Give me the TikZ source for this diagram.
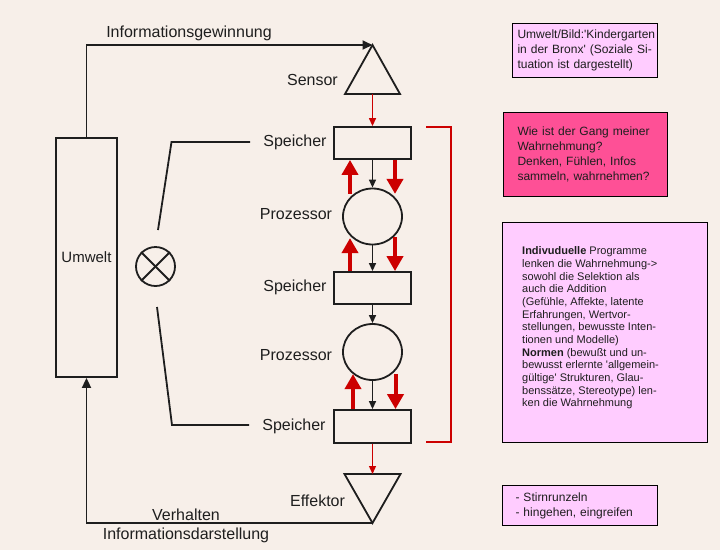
\documentclass[tikz,border=0pt]{standalone}
\usepackage{fontspec}
\setmainfont{Liberation Sans}
\usetikzlibrary{arrows.meta,shapes.geometric}
\definecolor{bg}{RGB}{247,239,233}
\definecolor{rd}{RGB}{204,0,0}
\definecolor{lpink}{RGB}{255,204,255}
\definecolor{hpink}{RGB}{254,80,150}
\definecolor{ln}{RGB}{30,30,30}
\begin{document}
\begin{tikzpicture}[x=1pt,y=-1pt,
  lbl/.style={font=\fontsize{16}{19}\selectfont, inner sep=0pt, text=ln},
  store/.style={draw=ln, line width=1.8pt, minimum width=77pt, minimum height=32pt, inner sep=0pt},
  proc/.style={draw=ln, line width=1.8pt, ellipse, minimum width=59pt, minimum height=56pt, inner sep=0pt},
  mainline/.style={draw=ln, line width=1.8pt},
  thinarrow/.style={draw=ln, line width=1.3pt, -{Triangle[width=7pt,length=8pt]}},
  thinred/.style={draw=rd, line width=1.3pt, -{Triangle[width=7pt,length=8pt]}},
  bigred/.style={draw=rd, line width=4pt, -{Triangle[width=16pt,length=15pt]}},
  infobox/.style={draw=black, line width=1pt, anchor=north west, inner ysep=0pt, align=left, text=ln}
]
\fill[bg] (0,0) rectangle (720,550);
\useasboundingbox (0,0) rectangle (720,550);

% Umwelt
\node[draw=ln, line width=1.8pt, minimum width=61pt, minimum height=239pt, inner sep=0pt,
      font=\fontsize{15}{18}\selectfont, text=ln] (umwelt) at (86.5,257.5) {Umwelt};

% Sensor triangle
\coordinate (sensTop) at (372.5,45);
\coordinate (sensL) at (345,94);
\coordinate (sensR) at (400,94);
\coordinate (sensBot) at (372.5,94);
\draw[mainline] (sensTop) -- (sensL) -- (sensR) -- cycle;

% Effektor triangle
\coordinate (effL) at (344.5,474);
\coordinate (effR) at (400.5,474);
\coordinate (effTop) at (372.5,474);
\coordinate (effApex) at (372.5,523);
\draw[mainline] (effL) -- (effR) -- (effApex) -- cycle;

% stores and processors
\node[store] (s1) at (372.5,143) {};
\node[proc]  (p1) at (372.5,216.5) {};
\node[store] (s2) at (372.5,288) {};
\node[proc]  (p2) at (372.5,352) {};
\node[store, minimum height=33pt] (s3) at (372.5,426.5) {};

% labels
\node[lbl] (lInfo) at (189,33) {Informationsgewinnung};
\node[lbl, anchor=east] (lSens) at (338,80) {Sensor};
\node[lbl] (lS1) at (295,142) {Speicher};
\node[lbl] (lP1) at (296,214) {Prozessor};
\node[lbl] (lS2) at (295,287) {Speicher};
\node[lbl] (lP2) at (296,355) {Prozessor};
\node[lbl] (lS3) at (294,426) {Speicher};
\node[lbl] (lEff) at (317.5,501) {Effektor};
\node[lbl] (lVer) at (186,515) {Verhalten};
\node[lbl] (lDar) at (186,535) {Informationsdarstellung};

% main loop arrows
\draw[mainline, -{Triangle[width=9pt,length=10pt]}] (umwelt.north) |- (sensTop);
\draw[mainline, -{Triangle[width=9pt,length=10pt]}] (effApex) -| (umwelt.south);

% thin arrows in chain
\draw[thinred] (sensBot) -- (s1.north);
\draw[thinarrow] (s1.south) -- (p1.north);
\draw[thinarrow] (p1.south) -- (s2.north);
\draw[thinarrow] (s2.south) -- (p2.north);
\draw[thinarrow] (p2.south) -- (s3.north);
\draw[thinred] (s3.south) -- (effTop);

% big red arrows
\draw[bigred] ([xshift=-22.5pt,yshift=-34pt]s1.south) -- ([xshift=-22.5pt]s1.south);
\draw[bigred] ([xshift=22.5pt]s1.south) -- ([xshift=22.5pt,yshift=-34pt]s1.south);
\draw[bigred] ([xshift=-22.5pt]s2.north) -- ([xshift=-22.5pt,yshift=33pt]s2.north);
\draw[bigred] ([xshift=22.5pt,yshift=34pt]s2.north) -- ([xshift=22.5pt]s2.north);
\draw[bigred] ([xshift=-19.5pt]s3.north) -- ([xshift=-19.5pt,yshift=35pt]s3.north);
\draw[bigred] ([xshift=23pt,yshift=35pt]s3.north) -- ([xshift=23pt]s3.north);

% multiplier circle and lines
\node[draw=ln, line width=1.8pt, circle, minimum size=39pt, inner sep=0pt] (mult) at (155.5,266.5) {};
\draw[mainline] (mult.north west) -- (mult.south east);
\draw[mainline] (mult.north east) -- (mult.south west);
\coordinate (upA) at (158,230);
\coordinate (upB) at (171.5,142);
\coordinate (upC) at (250,142);
\coordinate (loA) at (157,307);
\coordinate (loB) at (172,425);
\coordinate (loC) at (249,425);
\draw[mainline] (upA) -- (upB) -- (upC);
\draw[mainline] (loA) -- (loB) -- (loC);

% red bracket
\coordinate (brTL) at (426,127);
\coordinate (brTR) at (451,127);
\coordinate (brBR) at (451,442);
\coordinate (brBL) at (426,442);
\draw[rd, line width=1.5pt] (brTL) -- (brTR) -- (brBR) -- (brBL);

% info boxes
\node[infobox, fill=lpink, minimum width=145pt, minimum height=54pt, inner xsep=5pt,
      text width=135pt, font=\fontsize{12}{15}\selectfont] (b1) at (512,23)
  {Umwelt/Bild:\textquotesingle Kindergarten\\in der Bronx\textquotesingle{} (Soziale Si-\\tuation ist dargestellt)};

\node[infobox, fill=hpink, minimum width=164pt, minimum height=84pt, inner xsep=14pt,
      text width=136pt, font=\fontsize{12}{15}\selectfont] (b2) at (503,112)
  {Wie ist der Gang meiner\\Wahrnehmung?\\Denken, Fühlen, Infos\\sammeln, wahrnehmen?};

\node[infobox, fill=lpink, minimum width=205pt, minimum height=220pt] (b3) at (502,222) {};
\node[anchor=north west, inner sep=0pt, align=left, text=ln, font=\fontsize{11}{12.67}\selectfont]
  (b3t) at ([xshift=20pt,yshift=-24.5pt]b3.north west)
  {\textbf{Indivuduelle} Programme\\
   lenken die Wahrnehmung->\\
   sowohl die Selektion als\\
   auch die Addition\\
   (Gefühle, Affekte, latente\\
   Erfahrungen, Wertvor-\\
   stellungen, bewusste Inten-\\
   tionen und Modelle)\\
   \textbf{Normen} (bewußt und un-\\
   bewusst erlernte \textquotesingle allgemein-\\
   gültige\textquotesingle{} Strukturen, Glau-\\
   benssätze, Stereotype) len-\\
   ken die Wahrnehmung};

\node[infobox, fill=lpink, minimum width=155pt, minimum height=40pt, inner xsep=13pt,
      text width=129pt, font=\fontsize{12}{15}\selectfont] (b4) at (502,485)
  {- Stirnrunzeln\\- hingehen, eingreifen};
\end{tikzpicture}
\end{document}
